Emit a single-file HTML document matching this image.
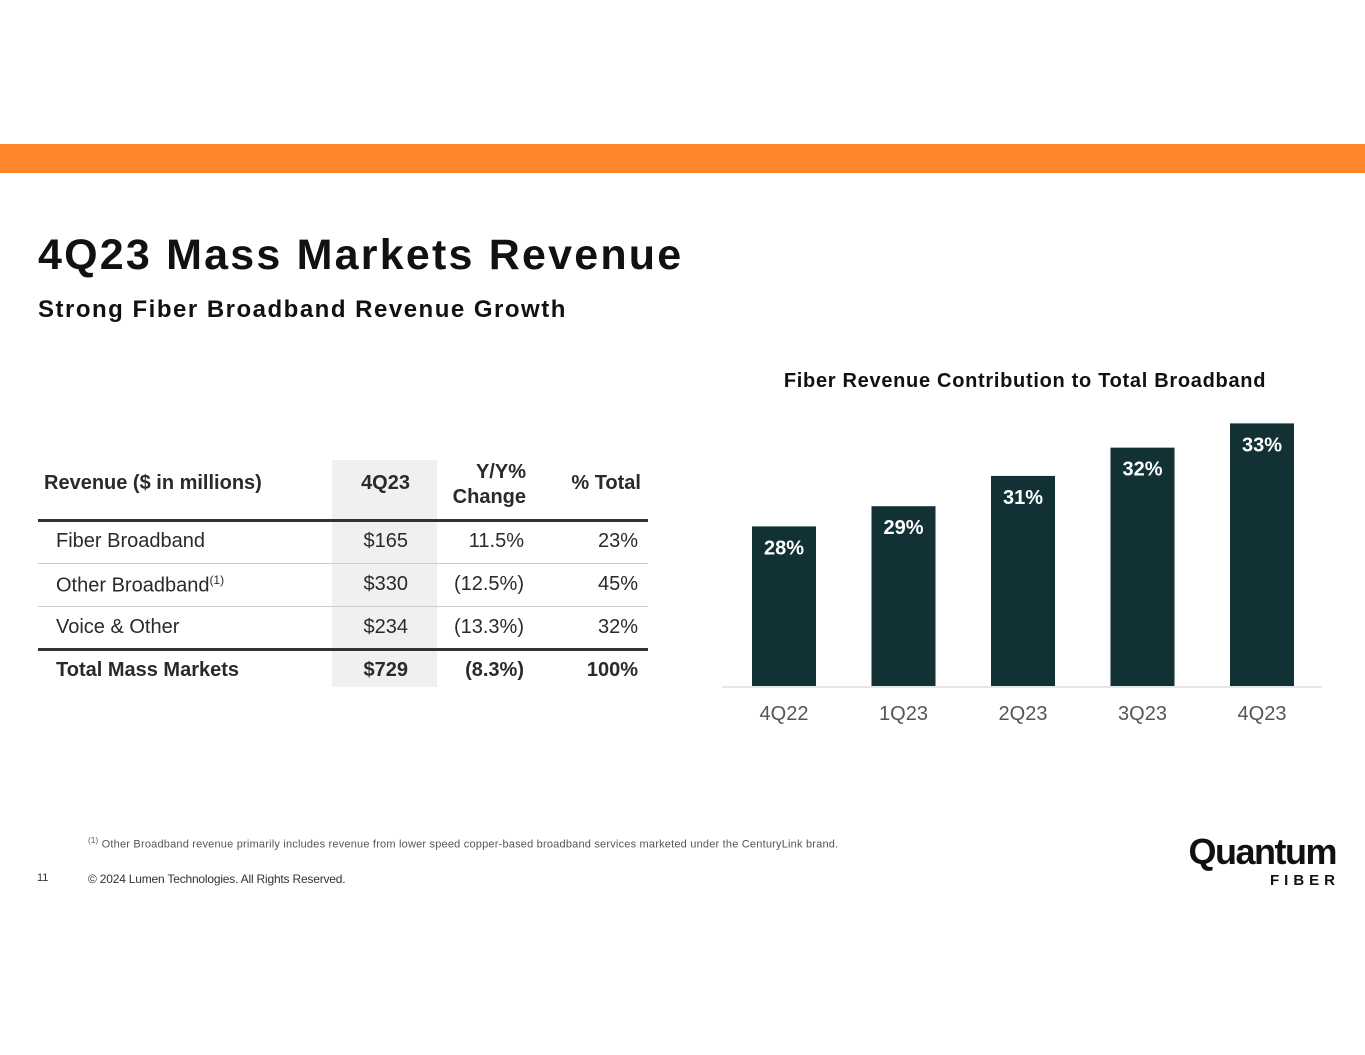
<!DOCTYPE html>
<html><head><meta charset="utf-8"><style>
body{margin:0;width:1365px;height:1055px;position:relative;background:#fff;font-family:"Liberation Sans",sans-serif;overflow:hidden}
.a{position:absolute}
.td{position:absolute;font-size:20px;color:#2a2a2a}
</style></head><body>
<div class="a" style="left:0;top:144px;width:1365px;height:29px;background:#fd862b"></div>
<div class="a" style="left:38px;top:231px;font-size:43px;letter-spacing:2.2px;font-weight:bold;color:#111">4Q23 Mass Markets Revenue</div>
<div class="a" style="left:38px;top:296px;font-size:24px;letter-spacing:1.5px;font-weight:bold;color:#111">Strong Fiber Broadband Revenue Growth</div>

<div>
<div class="a" style="left:332px;top:460px;width:105px;height:227px;background:#f0f0f0"></div>
<div class="td" style="left:44px;top:472px;font-weight:bold">Revenue ($ in millions)</div>
<div class="td" style="left:330px;top:472px;width:80px;text-align:right;font-weight:bold">4Q23</div>
<div class="td" style="left:440px;top:460px;width:86px;text-align:right;font-weight:bold;line-height:25px">Y/Y%<br>Change</div>
<div class="td" style="left:540px;top:472px;width:101px;text-align:right;font-weight:bold">% Total</div>
<div class="a" style="left:38px;top:519px;width:610px;height:3px;background:#333"></div>
<div class="a" style="left:38px;top:563px;width:610px;height:1px;background:#ccc"></div>
<div class="a" style="left:38px;top:606px;width:610px;height:1px;background:#ccc"></div>
<div class="a" style="left:38px;top:648px;width:610px;height:3px;background:#333"></div>
<div class="td" style="left:56px;top:530px">Fiber Broadband</div>
<div class="td" style="left:330px;top:530px;width:78px;text-align:right">$165</div>
<div class="td" style="left:440px;top:530px;width:84px;text-align:right">11.5%</div>
<div class="td" style="left:540px;top:530px;width:98px;text-align:right">23%</div>
<div class="td" style="left:56px;top:573px">Other Broadband<sup style="font-size:12px">(1)</sup></div>
<div class="td" style="left:330px;top:573px;width:78px;text-align:right">$330</div>
<div class="td" style="left:440px;top:573px;width:84px;text-align:right">(12.5%)</div>
<div class="td" style="left:540px;top:573px;width:98px;text-align:right">45%</div>
<div class="td" style="left:56px;top:616px">Voice &amp; Other</div>
<div class="td" style="left:330px;top:616px;width:78px;text-align:right">$234</div>
<div class="td" style="left:440px;top:616px;width:84px;text-align:right">(13.3%)</div>
<div class="td" style="left:540px;top:616px;width:98px;text-align:right">32%</div>
<div class="td" style="left:56px;top:659px;font-weight:bold">Total Mass Markets</div>
<div class="td" style="left:330px;top:659px;width:78px;text-align:right;font-weight:bold">$729</div>
<div class="td" style="left:440px;top:659px;width:84px;text-align:right;font-weight:bold">(8.3%)</div>
<div class="td" style="left:540px;top:659px;width:98px;text-align:right;font-weight:bold">100%</div>
</div>

<div class="a" style="left:700px;top:370px;width:650px;text-align:center;font-size:20px;letter-spacing:0.7px;font-weight:bold;color:#111">Fiber Revenue Contribution to Total Broadband</div>
<svg class="a" style="left:0;top:0" width="1365" height="1055" id="chart"></svg>

<div class="a" style="left:88px;top:836px;font-size:11px;letter-spacing:0.2px;color:#555"><sup style="font-size:8px">(1)</sup> Other Broadband revenue primarily includes revenue from lower speed copper-based broadband services marketed under the CenturyLink brand.</div>
<div class="a" style="left:37px;top:872px;font-size:11px;color:#333">11</div>
<div class="a" style="left:88px;top:872px;font-size:12px;letter-spacing:-0.2px;color:#333">© 2024 Lumen Technologies. All Rights Reserved.</div>
<div class="a" style="left:1164px;top:832px;width:172px;text-align:right">
<div style="font-size:36px;font-weight:bold;color:#111;letter-spacing:-1.5px;line-height:40px">Quantum</div>
<div style="font-size:15px;font-weight:bold;color:#111;letter-spacing:5px;margin-right:-4px">FIBER</div>
</div>
<script>
const categories=["4Q22","1Q23","2Q23","3Q23","4Q23"];
const values=[27.9,28.9,30.4,31.8,33.0];
const labels=["28%","29%","31%","32%","33%"];
const svg=document.getElementById('chart');const NS="http://www.w3.org/2000/svg";
const base=686,k=20.2,vmin=20,x0=752,step=119.5,bw=64;
const y=v=>base-(v-vmin)*k;const x=i=>x0+i*step;
function mk(t,a){const e=document.createElementNS(NS,t);for(const n in a)e.setAttribute(n,a[n]);svg.appendChild(e);return e;}
const ax=mk('line',{x1:722,x2:1322,y1:687,y2:687,stroke:'#ddd','stroke-width':1.5});


values.forEach((v,i)=>{
const r=mk('rect',{x:x(i),y:y(v),width:bw,height:base-y(v),fill:'#113135'});


const t=mk('text',{x:x(i)+bw/2,y:y(v)+28,'text-anchor':'middle',fill:'#fff','font-size':20,'font-weight':'bold','font-family':'Liberation Sans'});
t.textContent=labels[i];


const c=mk('text',{x:x(i)+bw/2,y:720,'text-anchor':'middle',fill:'#555','font-size':20,'font-family':'Liberation Sans'});
c.textContent=categories[i];


});
</script>
</body></html>
